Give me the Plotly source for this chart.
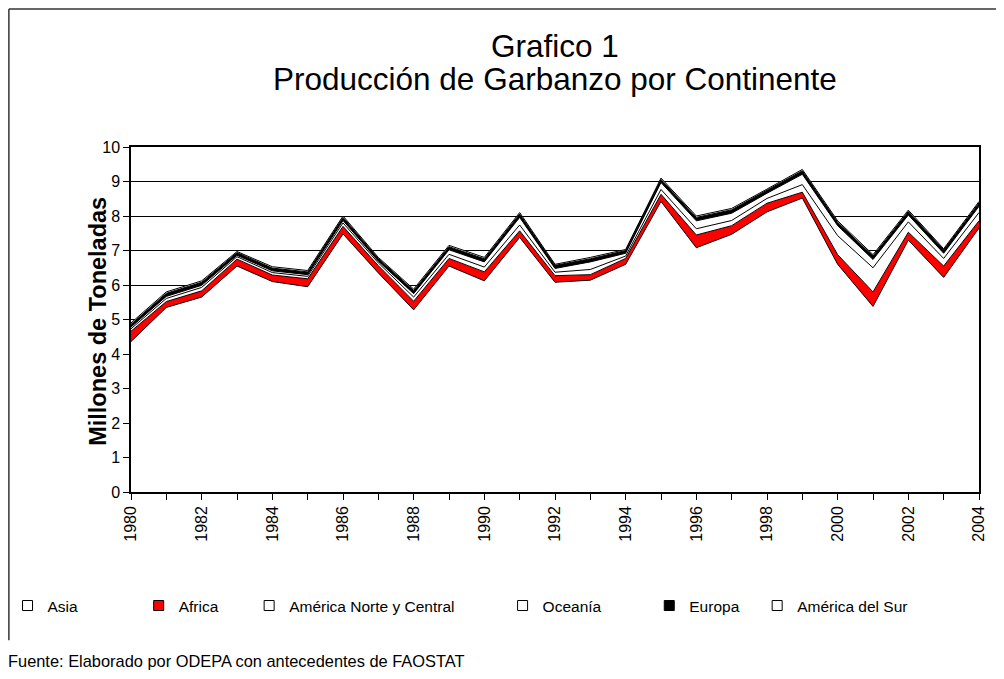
import plotly.graph_objects as go

# production by continent, millions of tonnes
years = list(range(1980, 2005))
asia = [4.36, 5.35, 5.65, 6.55, 6.10, 5.95, 7.48, 6.35, 5.28, 6.55, 6.12, 7.38, 6.08,
        6.14, 6.60, 8.42, 7.08, 7.47, 8.12, 8.52, 6.60, 5.38, 7.30, 6.22, 7.65]
africa = [0.30, 0.17, 0.18, 0.20, 0.19, 0.23, 0.22, 0.21, 0.25, 0.22, 0.26, 0.19, 0.19,
          0.16, 0.17, 0.21, 0.37, 0.25, 0.25, 0.17, 0.28, 0.42, 0.23, 0.33, 0.21]
america_nc = [0.07, 0.09, 0.10, 0.07, 0.07, 0.07, 0.10, 0.08, 0.12, 0.12, 0.14, 0.17, 0.10,
              0.15, 0.07, 0.14, 0.18, 0.15, 0.14, 0.22, 0.55, 0.70, 0.30, 0.22, 0.24]
oceania = [0.05, 0.06, 0.06, 0.04, 0.05, 0.05, 0.07, 0.05, 0.10, 0.13, 0.15, 0.22, 0.11,
           0.22, 0.08, 0.20, 0.23, 0.21, 0.15, 0.30, 0.29, 0.24, 0.20, 0.15, 0.18]
europa = [0.08, 0.09, 0.09, 0.08, 0.08, 0.08, 0.09, 0.08, 0.09, 0.09, 0.09, 0.10, 0.09,
          0.09, 0.08, 0.09, 0.10, 0.10, 0.09, 0.10, 0.10, 0.10, 0.10, 0.10, 0.10]
america_sur = [0.04, 0.04, 0.04, 0.03, 0.04, 0.04, 0.04, 0.03, 0.04, 0.04, 0.04, 0.04, 0.03,
               0.04, 0.03, 0.04, 0.04, 0.04, 0.03, 0.04, 0.04, 0.04, 0.04, 0.03, 0.04]

series = [
    ('Asia', asia, 'white'),
    ('Africa', africa, '#ff0000'),
    ('América Norte y Central', america_nc, 'white'),
    ('Oceanía', oceania, 'white'),
    ('Europa', europa, 'black'),
    ('América del Sur', america_sur, 'white'),
]
# extra non-breaking spaces to spread the legend like the original
pads = [13, 6, 10, 10, 3, 0]

FONT = 'Liberation Sans, Arial, sans-serif'

fig = go.Figure()
for name, vals, col in series:
    fig.add_trace(go.Scatter(x=years, y=vals, stackgroup='one', mode='lines',
                             line=dict(color='black', width=1), fillcolor=col,
                             name=name, showlegend=False, hoverinfo='x+y+name'))
# legend entries as plain squares
for (name, vals, col), p in zip(series, pads):
    fig.add_trace(go.Scatter(x=[None], y=[None], mode='markers', name=name + '\u00a0' * p,
                             marker=dict(symbol='square', size=10, color=col,
                                         line=dict(color='black', width=1))))

fig.update_layout(
    width=1004, height=679,
    # fixed margins; the page itself adds a few px of offset
    margin=dict(l=123, r=33, t=139, b=195, autoexpand=False),
    paper_bgcolor='white', plot_bgcolor='white',
    font=dict(family=FONT, size=15, color='black'),
    legend=dict(orientation='h', traceorder='normal',
                x=-0.1456, xanchor='left', y=-0.281, yanchor='top',
                font=dict(size=15.5, family=FONT), bgcolor='rgba(0,0,0,0)'),
    showlegend=True,
)
fig.update_xaxes(range=[1980, 2004], tickmode='array', tickvals=years[::2],
                 tickangle=-90, ticks='outside', ticklen=6, tickcolor='black',
                 minor=dict(dtick=1, ticks='outside', ticklen=6, tickcolor='black'),
                 showline=True, linecolor='black', linewidth=1.5, mirror=True,
                 showgrid=False, zeroline=False, tickfont=dict(size=16))
fig.update_yaxes(range=[0, 10], dtick=1, ticks='outside', ticklen=6, tickcolor='black',
                 showline=True, linecolor='black', linewidth=1.5, mirror=True,
                 showgrid=True, gridcolor='black', gridwidth=1.3, zeroline=False,
                 tickfont=dict(size=16))

# title (two lines, tight spacing as in the original)
fig.add_annotation(text='Grafico 1', xref='paper', yref='paper', x=0.5, y=1.293,
                   xanchor='center', yanchor='middle', showarrow=False,
                   font=dict(size=31.5, family=FONT))
fig.add_annotation(text='Producción de Garbanzo por Continente', xref='paper', yref='paper',
                   x=0.5, y=1.197, xanchor='center', yanchor='middle', showarrow=False,
                   font=dict(size=31.5, family=FONT))
# y axis title
fig.add_annotation(text='<b>Millones de Toneladas</b>', xref='paper', yref='paper',
                   x=-0.039, y=0.496, textangle=-90, xanchor='center', yanchor='middle',
                   showarrow=False, font=dict(size=23.5, family=FONT))

# outer chart-area border (top and left edges, as in the cropped original)
fig.add_shape(type='line', xref='paper', yref='paper', x0=-0.144, x1=1.04, y0=1.4, y1=1.4,
              line=dict(color='#333333', width=1.5))
fig.add_shape(type='line', xref='paper', yref='paper', x0=-0.144, x1=-0.144, y0=1.4, y1=-0.43,
              line=dict(color='#333333', width=1.5))

fig.add_annotation(text='Fuente: Elaborado por ODEPA con antecedentes de FAOSTAT',
                   xref='paper', yref='paper', x=-0.1475, y=-0.49, xanchor='left',
                   yanchor='middle', showarrow=False, font=dict(size=16.4, family=FONT))

fig.write_html('out.html')
